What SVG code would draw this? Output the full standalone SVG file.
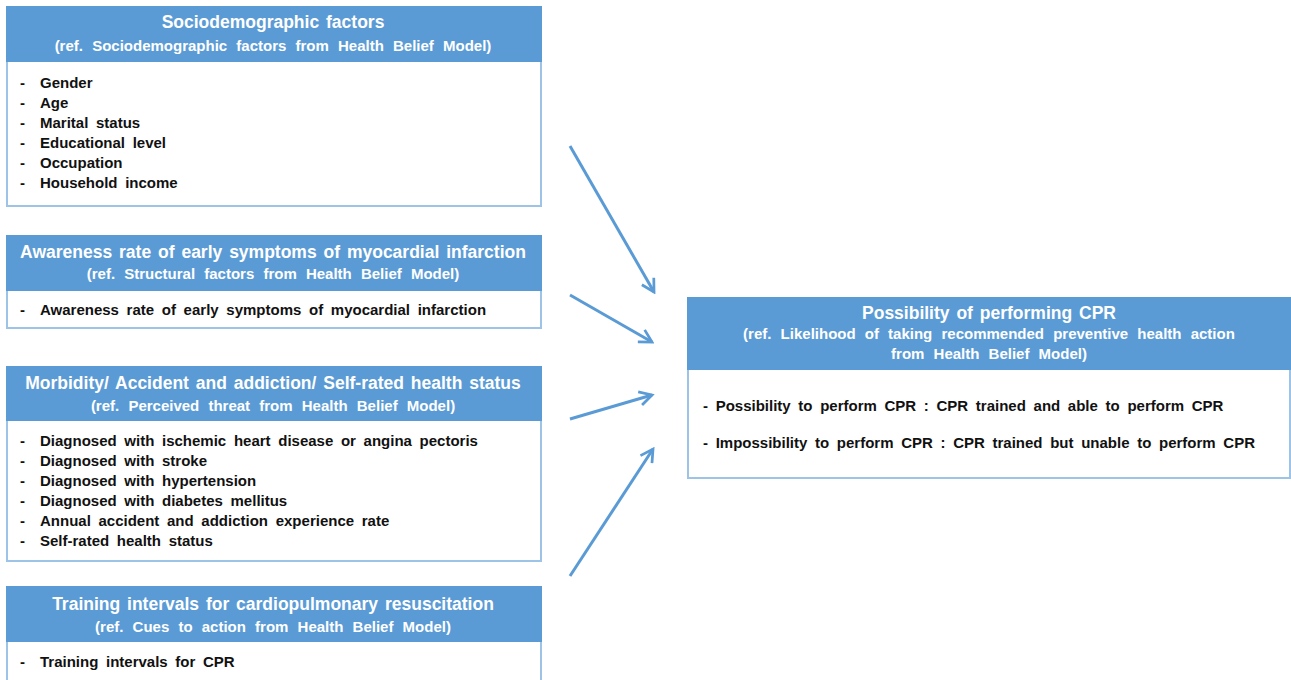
<svg xmlns="http://www.w3.org/2000/svg" width="1291" height="680" viewBox="0 0 1291 680">
<style>
.box{fill:#fff;stroke:#9dc3e6;stroke-width:2}
.hdr{fill:#5b9bd5}
.t{font-family:"Liberation Sans",Arial,sans-serif;font-weight:bold;font-size:17.5px;word-spacing:2px;fill:#fff;text-anchor:middle}
.s{font-family:"Liberation Sans",Arial,sans-serif;font-weight:bold;font-size:15px;word-spacing:5px;fill:#fff;text-anchor:middle}
.b{font-family:"Liberation Sans",Arial,sans-serif;font-weight:bold;font-size:15px;word-spacing:3.5px;fill:#111}
.arr{stroke:#5b9bd5;stroke-width:3;fill:none;marker-end:url(#ah)}
</style>
<defs>
<marker id="ah" viewBox="0 0 12 12" refX="10" refY="6" markerWidth="5.5" markerHeight="5.5" orient="auto" markerUnits="strokeWidth">
<path d="M1,1 L10,6 L1,11" fill="none" stroke="#5b9bd5" stroke-width="2"/>
</marker>
</defs>
<rect width="1291" height="680" fill="#fff"/>

<g id="sociodemographic">
<rect class="box" x="7" y="7" width="534" height="199"/>
<rect class="hdr" x="6" y="6" width="536" height="56"/>
<text class="t" x="273" y="28">Sociodemographic factors</text>
<text class="s" x="273" y="51">(ref. Sociodemographic  factors from Health Belief Model)</text>
<text class="b" x="20" y="88">-</text><text class="b" x="40" y="88">Gender</text>
<text class="b" x="20" y="108">-</text><text class="b" x="40" y="108">Age</text>
<text class="b" x="20" y="128">-</text><text class="b" x="40" y="128">Marital status</text>
<text class="b" x="20" y="148">-</text><text class="b" x="40" y="148">Educational level</text>
<text class="b" x="20" y="168">-</text><text class="b" x="40" y="168">Occupation</text>
<text class="b" x="20" y="188">-</text><text class="b" x="40" y="188">Household income</text>
</g>

<g id="awareness">
<rect class="box" x="7" y="236" width="534" height="92"/>
<rect class="hdr" x="6" y="235" width="536" height="56"/>
<text class="t" x="273" y="258">Awareness rate of early symptoms of myocardial infarction</text>
<text class="s" x="273" y="279">(ref. Structural factors from Health Belief Model)</text>
<text class="b" x="20" y="315">-</text><text class="b" x="40" y="315">Awareness rate of early symptoms of myocardial infarction</text>
</g>

<g id="morbidity">
<rect class="box" x="7" y="367" width="534" height="194"/>
<rect class="hdr" x="6" y="366" width="536" height="55"/>
<text class="t" x="273" y="389">Morbidity/ Accident and addiction/ Self-rated health status</text>
<text class="s" x="273" y="411">(ref. Perceived threat from Health Belief Model)</text>
<text class="b" x="20" y="446">-</text><text class="b" x="40" y="446">Diagnosed with ischemic heart disease or angina pectoris</text>
<text class="b" x="20" y="466">-</text><text class="b" x="40" y="466">Diagnosed with stroke</text>
<text class="b" x="20" y="486">-</text><text class="b" x="40" y="486">Diagnosed with hypertension</text>
<text class="b" x="20" y="506">-</text><text class="b" x="40" y="506">Diagnosed with diabetes mellitus</text>
<text class="b" x="20" y="526">-</text><text class="b" x="40" y="526">Annual accident and addiction experience rate</text>
<text class="b" x="20" y="546">-</text><text class="b" x="40" y="546">Self-rated health status</text>
</g>

<g id="training">
<rect class="box" x="7" y="587" width="534" height="110"/>
<rect class="hdr" x="6" y="586" width="536" height="56"/>
<text class="t" x="273" y="610">Training intervals for cardiopulmonary resuscitation</text>
<text class="s" x="273" y="632">(ref. Cues to action from Health Belief Model)</text>
<text class="b" x="20" y="667">-</text><text class="b" x="40" y="667">Training intervals for CPR</text>
</g>

<g id="outcome">
<rect class="box" x="688" y="298" width="602" height="180"/>
<rect class="hdr" x="687" y="297" width="604" height="73"/>
<text class="t" x="989" y="319">Possibility of performing CPR</text>
<text class="s" x="989" y="339">(ref. Likelihood of taking recommended  preventive health action</text>
<text class="s" x="989" y="359">from Health Belief Model)</text>
<text class="b" x="703" y="411">- Possibility to perform CPR : CPR trained and able to perform CPR</text>
<text class="b" x="703" y="448">- Impossibility to perform CPR : CPR trained but unable to perform CPR</text>
</g>

<g id="connectors">
<line class="arr" x1="570" y1="146" x2="654" y2="292"/>
<line class="arr" x1="570" y1="295" x2="652" y2="342"/>
<line class="arr" x1="570" y1="419" x2="652" y2="395"/>
<line class="arr" x1="570" y1="576" x2="653" y2="449"/>
</g>
</svg>
